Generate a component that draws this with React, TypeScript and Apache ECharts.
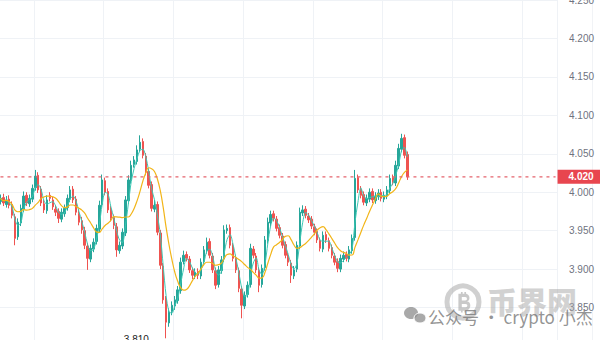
import React, { useEffect, useRef } from "react";
import * as echarts from "echarts";

// ---- data ----
const opens = [
  3.988, 3.993, 3.984, 3.991, 3.984, 3.968, 3.942, 3.960, 3.978, 3.996,
  3.985, 3.991, 4.006, 4.022, 4.004, 3.985, 3.976, 3.996, 3.990, 3.978,
  3.975, 3.965, 3.972, 3.980, 3.991, 4.004, 3.991, 3.972, 3.963, 3.950,
  3.930, 3.913, 3.926, 3.936, 3.952, 3.984, 4.015, 4.001, 3.978, 3.967,
  3.955, 3.924, 3.930, 3.947, 3.989, 4.015, 4.036, 4.040, 4.056, 4.066,
  4.047, 4.027, 4.010, 3.978, 3.984, 3.947, 3.904, 3.861, 3.830, 3.845,
  3.852, 3.859, 3.872, 3.910, 3.919, 3.913, 3.898, 3.891, 3.897, 3.891,
  3.910, 3.924, 3.936, 3.917, 3.898, 3.880, 3.898, 3.913, 3.950, 3.954,
  3.930, 3.915, 3.898, 3.874, 3.852, 3.867, 3.880, 3.926, 3.917, 3.898,
  3.880, 3.902, 3.937, 3.960, 3.972, 3.965, 3.954, 3.943, 3.932, 3.917,
  3.908, 3.891, 3.900, 3.930, 3.973, 3.978, 3.969, 3.965, 3.955, 3.949,
  3.937, 3.926, 3.945, 3.937, 3.928, 3.917, 3.910, 3.900, 3.913, 3.919,
  3.913, 3.924, 3.941, 4.019, 4.004, 3.997, 3.986, 3.991, 4.001, 3.989,
  3.994, 4.000, 3.991, 3.995, 4.002, 4.019, 4.012, 4.034, 4.056, 4.071,
  4.049,
];
const closes = [
  3.992, 3.986, 3.990, 3.983, 3.970, 3.940, 3.961, 3.979, 3.995, 3.986,
  3.992, 4.005, 4.021, 4.003, 3.986, 3.977, 3.990, 3.992, 3.981, 3.974,
  3.966, 3.974, 3.979, 3.992, 4.003, 3.990, 3.974, 3.961, 3.951, 3.931,
  3.914, 3.927, 3.935, 3.953, 3.983, 4.016, 4.000, 3.977, 3.966, 3.957,
  3.925, 3.931, 3.948, 3.990, 4.016, 4.035, 4.042, 4.055, 4.065, 4.048,
  4.026, 4.009, 3.979, 3.983, 3.948, 3.905, 3.860, 3.831, 3.844, 3.853,
  3.860, 3.873, 3.909, 3.918, 3.914, 3.899, 3.892, 3.896, 3.892, 3.909,
  3.925, 3.935, 3.918, 3.899, 3.879, 3.899, 3.912, 3.951, 3.953, 3.931,
  3.914, 3.899, 3.875, 3.853, 3.866, 3.879, 3.927, 3.918, 3.899, 3.879,
  3.901, 3.938, 3.961, 3.971, 3.966, 3.953, 3.944, 3.931, 3.918, 3.909,
  3.892, 3.899, 3.931, 3.974, 3.977, 3.970, 3.964, 3.956, 3.948, 3.938,
  3.927, 3.944, 3.938, 3.927, 3.918, 3.909, 3.901, 3.914, 3.918, 3.914,
  3.925, 3.940, 4.018, 4.003, 3.996, 3.987, 3.992, 4.000, 3.990, 3.995,
  3.999, 3.992, 3.996, 4.003, 4.018, 4.013, 4.035, 4.057, 4.070, 4.048,
  4.020,
];
const lows = [
  3.984, 3.982, 3.980, 3.979, 3.966, 3.931, 3.938, 3.956, 3.974, 3.982,
  3.981, 3.987, 4.002, 3.999, 3.982, 3.973, 3.972, 3.988, 3.977, 3.969,
  3.960, 3.961, 3.968, 3.976, 3.987, 3.986, 3.970, 3.957, 3.946, 3.926,
  3.899, 3.909, 3.922, 3.932, 3.948, 3.980, 3.996, 3.973, 3.962, 3.952,
  3.916, 3.920, 3.926, 3.943, 3.985, 4.011, 4.032, 4.036, 4.052, 4.044,
  4.022, 4.005, 3.975, 3.974, 3.944, 3.900, 3.855, 3.810, 3.825, 3.840,
  3.847, 3.855, 3.868, 3.906, 3.910, 3.895, 3.887, 3.887, 3.887, 3.887,
  3.906, 3.920, 3.914, 3.895, 3.874, 3.876, 3.894, 3.909, 3.946, 3.927,
  3.910, 3.895, 3.870, 3.836, 3.848, 3.863, 3.876, 3.914, 3.895, 3.870,
  3.876, 3.898, 3.933, 3.956, 3.962, 3.949, 3.940, 3.927, 3.914, 3.904,
  3.882, 3.887, 3.896, 3.926, 3.969, 3.966, 3.960, 3.952, 3.944, 3.934,
  3.923, 3.922, 3.934, 3.923, 3.914, 3.905, 3.896, 3.896, 3.909, 3.910,
  3.909, 3.920, 3.937, 3.999, 3.992, 3.983, 3.982, 3.987, 3.986, 3.985,
  3.990, 3.988, 3.987, 3.991, 3.998, 4.009, 4.008, 4.030, 4.052, 4.044,
  4.016,
];
const highs = [
  3.997, 3.998, 3.995, 3.996, 3.988, 3.972, 3.966, 3.984, 4.001, 4.000,
  3.997, 4.010, 4.029, 4.026, 4.008, 3.990, 3.996, 4.000, 3.994, 3.983,
  3.979, 3.979, 3.984, 3.997, 4.008, 4.008, 3.995, 3.977, 3.968, 3.955,
  3.934, 3.932, 3.940, 3.958, 3.989, 4.023, 4.019, 4.005, 3.982, 3.971,
  3.960, 3.936, 3.953, 3.995, 4.022, 4.041, 4.047, 4.061, 4.074, 4.070,
  4.051, 4.031, 4.014, 3.990, 3.988, 3.951, 3.908, 3.865, 3.849, 3.858,
  3.865, 3.878, 3.915, 3.924, 3.923, 3.917, 3.902, 3.901, 3.901, 3.914,
  3.930, 3.941, 3.940, 3.921, 3.902, 3.904, 3.917, 3.957, 3.958, 3.958,
  3.934, 3.919, 3.902, 3.878, 3.871, 3.884, 3.933, 3.930, 3.921, 3.902,
  3.906, 3.943, 3.967, 3.976, 3.976, 3.969, 3.958, 3.947, 3.936, 3.921,
  3.912, 3.904, 3.936, 3.980, 3.983, 3.982, 3.973, 3.969, 3.959, 3.953,
  3.941, 3.949, 3.949, 3.941, 3.932, 3.921, 3.914, 3.919, 3.923, 3.923,
  3.930, 3.945, 4.029, 4.023, 4.008, 4.001, 3.997, 4.005, 4.005, 4.000,
  4.004, 4.004, 4.001, 4.008, 4.023, 4.023, 4.041, 4.063, 4.076, 4.075,
  4.053,
];
const slotCount = 192; // bar slots across the visible time range
const lastPrice = 4.02;
const priceMin = 3.8;
const priceMax = 4.25;
const priceStep = 0.05;
const slowPeriod = 9;
const fastPeriod = 3;
const watermarkBrand = "币界网";
const watermarkText = "公众号 · crypto 小杰";

const coinGlyph =
  "M4 2 H12 C16 2 17 5 17 7 C17 9 16 10.5 14 11 C17 11.5 18 13.5 18 16 C18 19 16 22 12 22 H4 Z " +
  "M8 6 V10 H12 C13.5 10 14 9 14 8 C14 7 13.5 6 12 6 Z " +
  "M8 14 V18 H12.5 C14 18 14.5 17 14.5 16 C14.5 15 14 14 12.5 14 Z " +
  "M7 0 H9 V2 H7 Z M11 0 H13 V2 H11 Z M7 22 H9 V24 H7 Z M11 22 H13 V24 H11 Z";
echarts.graphic.registerShape("coinGlyph", echarts.graphic.extendPath(coinGlyph, {}) as any);

function movingAverage(values: number[], n: number) {
  return values.map((_, i) => {
    const s = Math.max(0, i - n + 1);
    let sum = 0;
    for (let j = s; j <= i; j++) sum += values[j];
    return +(sum / (i - s + 1)).toFixed(4);
  });
}

export default function App() {
  const ref = useRef<HTMLDivElement>(null);
  useEffect(() => {
    if (!ref.current) return;
    const chart = echarts.init(ref.current, undefined, { renderer: "svg" });
    const candles = closes.map((c, i) => [opens[i], c, lows[i], highs[i]]);
    const cats = Array.from({ length: slotCount }, (_, i) => String(i));
    let minIdx = 0;
    lows.forEach((v, i) => {
      if (v < lows[minIdx]) minIdx = i;
    });
    const up = "#26a69a";
    const down = "#ef5350";
    const dashRed = "#e5636c";
    chart.setOption({
      animation: false,
      backgroundColor: "#ffffff",
      grid: { left: -1, right: 43, top: 0, bottom: -6, containLabel: false, outerBoundsMode: "none" },
      xAxis: {
        type: "category",
        data: cats,
        boundaryGap: true,
        axisLine: { show: false },
        axisTick: { show: false },
        axisLabel: { show: false },
        splitLine: {
          show: true,
          interval: (index: number) => index % 24 === 12,
          lineStyle: { color: "#eff2f6", width: 1 },
        },
      },
      yAxis: {
        type: "value",
        position: "right",
        min: priceMin,
        max: priceMax,
        interval: priceStep,
        axisLine: { show: false },
        axisTick: { show: false },
        axisLabel: {
          margin: 12,
          color: "#6f7380",
          fontSize: 10,
          showMinLabel: false,
          fontFamily: "Liberation Sans, Arial, sans-serif",
          formatter: (v: number) => v.toFixed(3),
        },
        splitLine: { lineStyle: { color: "#eff2f6", width: 1 } },
      },
      graphic: [
        { type: "line", shape: { x1: 557.5, y1: 0, x2: 557.5, y2: 340 }, style: { stroke: "#eef1f5", lineWidth: 1 }, z: -1 },
        { type: "line", shape: { x1: 592.5, y1: 0, x2: 592.5, y2: 340 }, style: { stroke: "#f1f3f6", lineWidth: 1 }, z: -1 },
        {
          type: "circle",
          shape: { cx: 463, cy: 302, r: 16 },
          style: { fill: "none", stroke: "rgba(170,170,170,0.55)", lineWidth: 5 },
          z: 50,
        },
        {
          type: "coinGlyph",
          x: 455,
          y: 292,
          scaleX: 0.85,
          scaleY: 0.85,
          style: { fill: "rgba(165,165,165,0.6)" },
          z: 50,
        },
        {
          type: "text",
          x: 487,
          y: 300,
          style: {
            text: watermarkBrand,
            fill: "rgba(165,165,165,0.5)",
            font: "900 30px 'Noto Sans CJK SC', sans-serif",
            textVerticalAlign: "middle",
          },
          z: 50,
        },
        { type: "ellipse", shape: { cx: 411, cy: 313, rx: 7, ry: 6 }, style: { fill: "rgba(140,140,140,0.75)" }, z: 51 },
        { type: "ellipse", shape: { cx: 420, cy: 318, rx: 6, ry: 5 }, style: { fill: "rgba(140,140,140,0.75)", stroke: "#fff", lineWidth: 1 }, z: 52 },
        {
          type: "text",
          x: 428,
          y: 316,
          style: {
            text: watermarkText,
            fill: "rgba(120,120,120,0.8)",
            font: "17px 'Noto Sans CJK SC', sans-serif",
            textVerticalAlign: "middle",
          },
          z: 51,
        },
      ],
      series: [
        {
          type: "candlestick",
          data: candles,
          barMaxWidth: 2,
          barWidth: 2,
          itemStyle: {
            color: up,
            color0: down,
            borderColor: up,
            borderColor0: down,
            borderWidth: 1,
          },
          markPoint: {
            symbol: "circle",
            symbolSize: 1,
            itemStyle: { color: "transparent" },
            data: [{ coord: [minIdx, lows[minIdx]], value: lows[minIdx] }],
            label: {
              show: true,
              position: "left",
              distance: 4,
              offset: [0, 1],
              formatter: (p: any) => Number(p.value).toFixed(3) + " →",
              color: "#222",
              fontSize: 10,
              fontFamily: "Liberation Sans, Arial, sans-serif",
            },
          },
        },
        {
          type: "line",
          data: movingAverage(closes, fastPeriod),
          smooth: 0.3,
          symbol: "none",
          lineStyle: { color: "#3cc8b4", width: 1 },
          z: 3,
        },
        {
          type: "line",
          data: movingAverage(closes, slowPeriod),
          smooth: true,
          symbol: "none",
          color: "#f2b518",
          lineStyle: { color: "#f2b518", width: 1.2 },
          z: 4,
        },
        {
          type: "line",
          data: cats.map(() => lastPrice),
          symbol: "none",
          silent: true,
          color: dashRed,
          itemStyle: { color: dashRed },
          lineStyle: { color: dashRed, type: [3, 4], width: 1.2, opacity: 1 },
          endLabel: {
            show: true,
            distance: 2,
            formatter: () => lastPrice.toFixed(3),
            color: "#ffffff",
            fontWeight: "bold",
            fontSize: 10,
            fontFamily: "Liberation Sans, Arial, sans-serif",
            backgroundColor: "#e8464f",
            padding: [2, 11, 2, 11],
          },
          z: 5,
        },
      ],
    });
    return () => chart.dispose();
  }, []);
  return <div ref={ref} style={{ width: 600, height: 340, position: "absolute", left: 0, top: 0 }} />;
}
